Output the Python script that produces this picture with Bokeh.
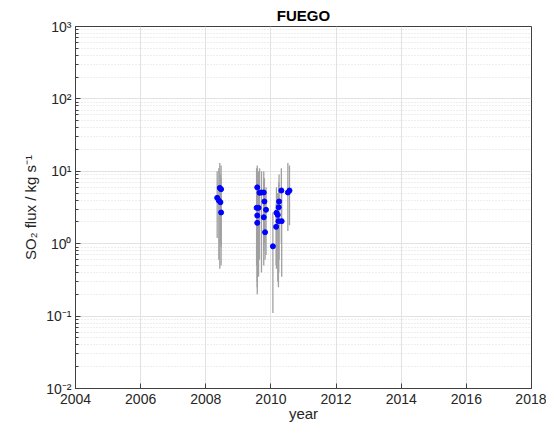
from bokeh.plotting import figure
from bokeh.models import Range1d, FixedTicker, CustomJSTickFormatter, LogTicker
from bokeh.embed import file_html
from bokeh.resources import INLINE

years = [2008.35, 2008.40, 2008.43, 2008.45, 2008.47, 2008.47,
         2009.56, 2009.58, 2009.58, 2009.58, 2009.62, 2009.65, 2009.71, 2009.78, 2009.78, 2009.80, 2009.82, 2009.85,
         2010.06, 2010.16, 2010.17, 2010.21, 2010.23, 2010.24, 2010.25, 2010.32, 2010.33, 2010.52, 2010.57]
flux = [4.3, 3.95, 5.9, 3.74, 5.66, 2.7,
        3.13, 6.0, 2.45, 1.94, 3.13, 5.05, 5.1, 5.1, 2.32, 3.83, 1.44, 2.94,
        0.92, 1.71, 2.67, 2.5, 2.05, 3.19, 3.83, 5.43, 2.05, 5.1, 5.43]
flux_low = [1.2, 0.6, 0.45, 1.0, 0.9, 0.5,
            0.5, 0.2, 0.3, 0.25, 0.35, 0.6, 0.4, 0.8, 0.5, 1.0, 0.6, 0.7,
            0.11, 0.5, 0.45, 0.3, 0.25, 0.4, 0.6, 1.0, 0.35, 1.5, 1.8]
flux_high = [10, 11, 13, 9, 12, 8,
             11, 12, 9, 7, 10, 11, 10, 10, 7, 8, 5, 6,
             2.7, 3.5, 6, 5, 4.5, 7, 9, 11, 6, 13, 12]
x_ticks = [2004, 2006, 2008, 2010, 2012, 2014, 2016, 2018]

FONT = "Liberation Sans"
AX = "#404040"

p = figure(width=546, height=429, y_axis_type="log", output_backend="svg",
           toolbar_location=None, x_range=Range1d(2004, 2018), y_range=Range1d(0.01, 1000),
           min_border_left=75, min_border_right=15, min_border_top=26, min_border_bottom=41,
           title="FUEGO")
p.title.align = "center"
p.title.text_font = FONT
p.title.text_font_size = "15px"
p.title.text_font_style = "bold"
p.title.text_color = "#000000"
p.title.standoff = 6

p.segment(x0=years, y0=flux_low, x1=years, y1=flux_high, line_color="#a0a0a0", line_width=1.3)
p.scatter(years, flux, size=5, fill_color="#0000ff", line_color="#0000ff")

xa = p.xaxis[0]
xa.ticker = FixedTicker(ticks=x_ticks)
xa.axis_label = "year"
ya = p.yaxis[0]
ya.ticker = LogTicker(desired_num_ticks=6, num_minor_ticks=10)
ya.axis_label = "SO\u2082 flux / kg s\u207b\u00b9"
ya.formatter = CustomJSTickFormatter(code="""
const e = Math.round(Math.log10(tick));
const sup = {'-':'\u207b','0':'\u2070','1':'\u00b9','2':'\u00b2','3':'\u00b3','4':'\u2074','5':'\u2075','6':'\u2076','7':'\u2077','8':'\u2078','9':'\u2079'};
return '10' + String(e).split('').map(c => sup[c]).join('');
""")
for ax in (xa, ya):
    ax.axis_line_color = AX
    ax.major_tick_line_color = AX
    ax.minor_tick_line_color = AX
    ax.major_tick_in = 5
    ax.major_tick_out = 0
    ax.minor_tick_in = 3
    ax.minor_tick_out = 0
    ax.major_label_text_font = FONT
    ax.major_label_text_font_size = "14px"
    ax.major_label_text_color = "#262626"
    ax.axis_label_text_font = FONT
    ax.axis_label_text_font_size = "15px"
    ax.axis_label_text_font_style = "normal"
    ax.axis_label_text_color = "#262626"
xa.minor_tick_line_color = None
xa.major_label_standoff = 5
xa.axis_label_standoff = -2
ya.major_label_standoff = 4
ya.axis_label_standoff = 4

p.xgrid.grid_line_color = "#e2e2e2"
p.ygrid.grid_line_color = "#e2e2e2"
p.ygrid.minor_grid_line_color = "#dcdcdc"
p.ygrid.minor_grid_line_dash = "1 2"
p.outline_line_color = AX

open("out.html", "w").write(file_html(p, INLINE))
